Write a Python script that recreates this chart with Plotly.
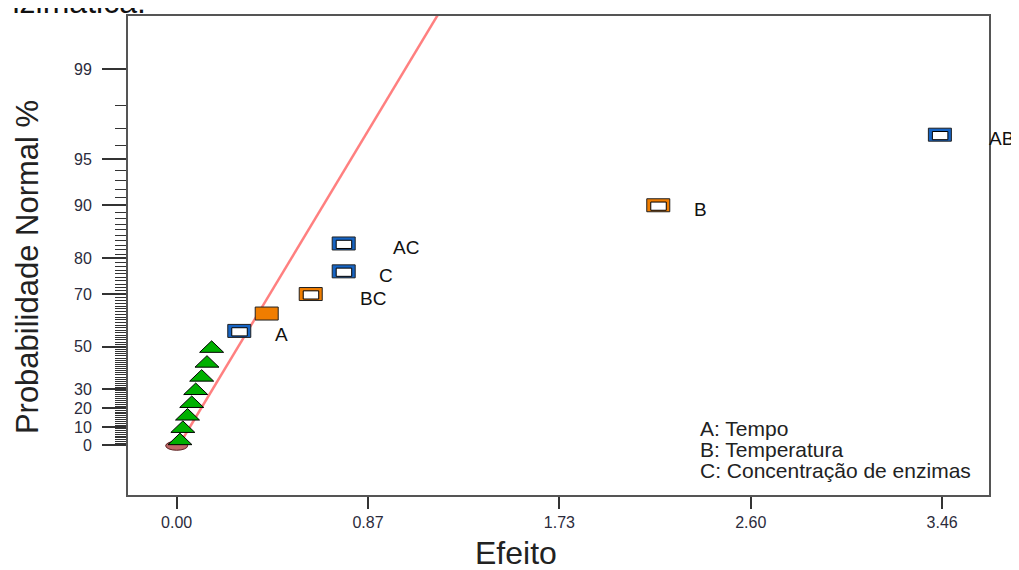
from statistics import NormalDist
import plotly.graph_objects as go

# ---------------- data ----------------
# effect estimates (x) and half-normal probability in % (y)
error_effects = [0.015, 0.028, 0.049, 0.068, 0.086, 0.113, 0.137, 0.158]
error_prob = [3.33, 10.0, 16.67, 23.33, 30.0, 36.67, 43.33, 50.0]

zero_effect = [0.0]
zero_prob = [0.0]

term_names = ["A", "", "BC", "C", "AC", "B", "AB"]
term_effects = [0.283, 0.407, 0.606, 0.755, 0.755, 2.177, 3.450]
term_prob = [56.67, 63.33, 70.0, 76.67, 83.33, 90.0, 96.67]
term_sign = ["pos", "neg", "neg", "pos", "pos", "neg", "pos"]
term_filled = [False, True, False, False, False, False, False]

line_effect = [0.01, 1.30]
line_prob = [0.0, 99.885]

y_major_prob = [0, 10, 20, 30, 50, 70, 80, 90, 95, 99]
y_major_text = ["0", "10", "20", "30", "50", "70", "80", "90", "95", "99"]
y_minor_prob = [p for p in range(1, 99) if p not in y_major_prob]

x_tickvals = [0.0, 0.865, 1.73, 2.595, 3.46]
x_ticktext = ["0.00", "0.87", "1.73", "2.60", "3.46"]

factor_key = ["A: Tempo", "B: Temperatura", "C: Concentração de enzimas"]

# ---------------- helpers ----------------
nd = NormalDist()


def hn(p):
    """half-normal probability (%) -> position on the probability axis"""
    return nd.inv_cdf(0.5 + p / 200.0)


FONT = "Liberation Sans, Arial, sans-serif"
BLUE = "#1664c4"
ORANGE = "#f07d00"
GREEN = "#00b000"

fig = go.Figure()

# fitted line
fig.add_trace(go.Scatter(
    x=line_effect, y=[hn(p) for p in line_prob], mode="lines",
    line=dict(color="#ff8080", width=2.5), hoverinfo="skip", showlegend=False))

# data traces (for hover); visual marks drawn as pixel-sized shapes anchored on them
fig.add_trace(go.Scatter(
    x=error_effects, y=[hn(p) for p in error_prob], mode="markers",
    marker=dict(size=14, opacity=0), name="Erro", showlegend=False,
    customdata=error_prob, hovertemplate="%{x:.3f}, %{customdata}%<extra></extra>"))
fig.add_trace(go.Scatter(
    x=term_effects, y=[hn(p) for p in term_prob], mode="markers",
    marker=dict(size=14, opacity=0), name="Termos", showlegend=False,
    text=term_names, customdata=term_prob,
    hovertemplate="%{text} %{x:.3f}, %{customdata}%<extra></extra>"))

shapes = []


def anchored(x, y, **kw):
    d = dict(xref="x", yref="y", xsizemode="pixel", ysizemode="pixel",
             xanchor=x, yanchor=y, layer="above")
    d.update(kw)
    return d


# ellipse at zero
for x, p in zip(zero_effect, zero_prob):
    shapes.append(anchored(x, hn(p), type="circle", x0=-11, x1=11, y0=-5, y1=4,
                           fillcolor="#c06868", line=dict(color="#5a2020", width=1)))

# green triangles (error terms)
for x, p in zip(error_effects, error_prob):
    shapes.append(anchored(x, hn(p), type="path", path="M -12,-5.5 L 12,-5.5 L 0,6 Z",
                           fillcolor=GREEN, line=dict(color="#000000", width=1)))

# rectangles for model terms
for x, p, s, f in zip(term_effects, term_prob, term_sign, term_filled):
    col = BLUE if s == "pos" else ORANGE
    y = hn(p)
    shapes.append(anchored(x, y, type="rect", x0=-11.5, x1=11.5, y0=-6.5, y1=6.5,
                           fillcolor=col, line=dict(color="#202020", width=1)))
    if not f:
        shapes.append(anchored(x, y, type="rect", x0=-7.5, x1=8, y0=-5, y1=3.2,
                               fillcolor="#ffffff", line=dict(color="#000000", width=1)))

annotations = []
for name, x, p in zip(term_names, term_effects, term_prob):
    if not name:
        continue
    annotations.append(dict(
        x=x, y=hn(p), xref="x", yref="y", text=name, showarrow=False,
        xanchor="center", yanchor="middle",
        xshift=42 if len(name) == 1 else 62, yshift=-4,
        font=dict(family=FONT, size=19, color="#111111")))

# factor key
for i, t in enumerate(factor_key):
    annotations.append(dict(
        x=0.662, y=0.1393 - i * 0.0437, xref="paper", yref="paper", text=t,
        showarrow=False, xanchor="left", yanchor="middle", align="left",
        font=dict(family=FONT, size=21, color="#222222")))

# axis titles
annotations.append(dict(
    x=0.4506, y=-0.122, xref="paper", yref="paper", text="Efeito", showarrow=False,
    xanchor="center", yanchor="middle", font=dict(family=FONT, size=32, color="#222222")))
annotations.append(dict(
    x=-0.116, y=0.476, xref="paper", yref="paper", text="Probabilidade Normal %",
    showarrow=False, textangle=-90, xanchor="center", yanchor="middle",
    font=dict(family=FONT, size=31, color="#222222")))

# clipped text from the surrounding document
annotations.append(dict(
    x=-0.170, y=0.9875, xref="paper", yref="paper", text="enzimática.", showarrow=False,
    xanchor="left", yanchor="bottom", font=dict(family=FONT, size=32, color="#111111")))

fig.update_layout(
    width=1011, height=562,
    margin=dict(l=120, r=30, t=6, b=75),
    paper_bgcolor="white", plot_bgcolor="white",
    shapes=shapes, annotations=annotations,
    showlegend=False,
    xaxis=dict(
        range=[-0.220, 3.672], showgrid=False, zeroline=False,
        showline=True, mirror=True, linecolor="#555555", linewidth=2,
        ticks="outside", ticklen=12, tickwidth=1.5, tickcolor="#333333",
        tickmode="array", tickvals=x_tickvals, ticktext=x_ticktext,
        tickfont=dict(family=FONT, size=16, color="#2b2b3c"),
    ),
    yaxis=dict(
        range=[-0.341, 2.942], showgrid=False, zeroline=False,
        showline=True, mirror=True, linecolor="#555555", linewidth=2,
        ticks="outside", ticklen=24, tickwidth=1.5, tickcolor="#333333",
        tickmode="array", tickvals=[hn(p) for p in y_major_prob], ticktext=y_major_text,
        tickfont=dict(family=FONT, size=16, color="#2b2b3c"),
        ticklabelstandoff=7,
        minor=dict(ticks="outside", ticklen=11, tickwidth=1, tickcolor="#333333",
                   tickmode="array", tickvals=[hn(p) for p in y_minor_prob],
                   showgrid=False),
    ),
)

fig.write_html("out.html")
